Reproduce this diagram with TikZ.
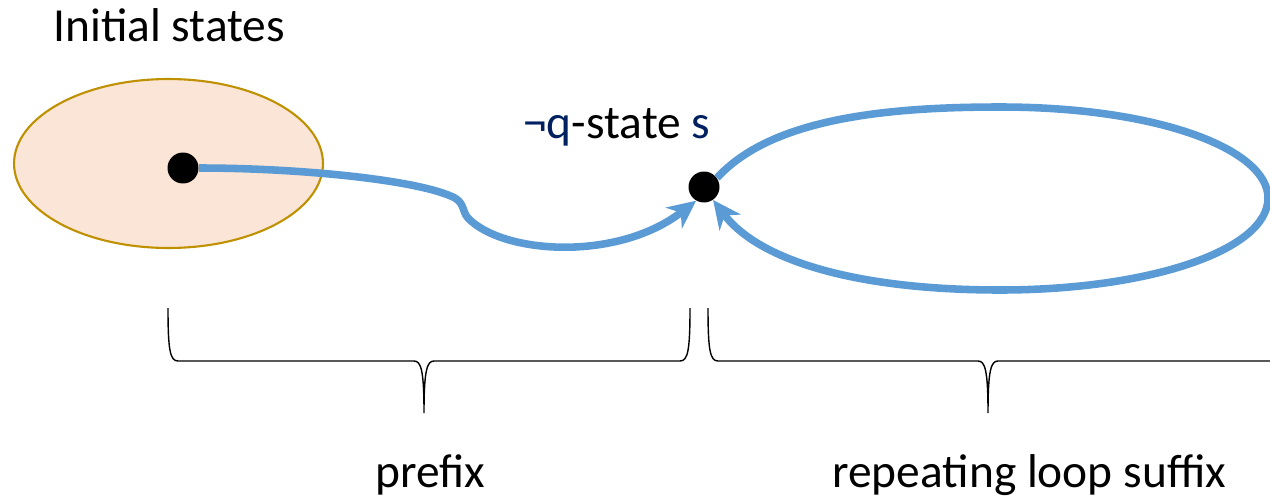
\documentclass[tikz,border=0pt]{standalone}
\usepackage{fontspec}
\setmainfont{Carlito}
\usetikzlibrary{shapes.geometric,arrows.meta}
\definecolor{flow}{RGB}{91,155,213}
\definecolor{initfill}{RGB}{251,229,214}
\definecolor{initline}{RGB}{191,144,0}
\definecolor{navy}{RGB}{0,32,96}
\tikzset{
  statedot/.style={circle,fill=black,inner sep=0pt,minimum size=0.62cm},
  flowline/.style={draw=flow,line width=4.3pt,
    -{Stealth[length=16pt,width=15pt,inset=5pt]}},
  bracepath/.style={draw=black,line width=0.8pt},
  label/.style={font=\fontsize{27}{32}\selectfont,inner sep=0pt,anchor=base west}
}
\begin{document}
\begin{tikzpicture}[x=0.02cm,y=-0.02cm]
\useasboundingbox (0,0) rectangle (1270,497);
\clip (0,0) rectangle (1270,497);

% set of initial states
\node[ellipse,draw=initline,fill=initfill,line width=1.2pt,inner sep=0pt,
      minimum width=6.18cm,minimum height=3.38cm] (init) at (168.5,163.5) {};
\node[label] (initlbl) at (53,41) {Initial states};

% the two states
\node[statedot] (d1) at (183,168) {};
\node[statedot] (d2) at (704,187) {};
\node[label] (slbl) at (523,138) {\textcolor{navy}{¬q}-state \textcolor{navy}{s}};

% prefix path into s
\draw[flowline] (d1.east) .. controls (300,168) and (420,180) .. (455,198)
  .. controls (466,205) and (461,213) .. (471,221)
  .. controls (510,255) and (620,260) .. (d2.240);

% loop through s
\draw[flowline] (d2.35) .. controls (770,120) and (880,107) .. (1000,107)
  .. controls (1160,107) and (1268,150) .. (1268,198)
  .. controls (1268,250) and (1150,290) .. (1000,290)
  .. controls (860,290) and (760,262) .. (d2.305);

% braces
\draw[bracepath] (168,308) .. controls (168,350) and (170,361) .. (178,361)
  -- (414,361) .. controls (421,361) and (424,370) .. (424,413)
  .. controls (424,370) and (427,361) .. (434,361)
  -- (680,361) .. controls (688,361) and (690,350) .. (690,308);
\draw[bracepath] (708,308) .. controls (708,350) and (710,361) .. (718,361)
  -- (978,361) .. controls (985,361) and (988,370) .. (988,413)
  .. controls (988,370) and (991,361) .. (998,361)
  -- (1300,361);

\node[label] (prelbl) at (375,487) {prefix};
\node[label] (suflbl) at (832,487) {repeating loop suffix};
\end{tikzpicture}
\end{document}
